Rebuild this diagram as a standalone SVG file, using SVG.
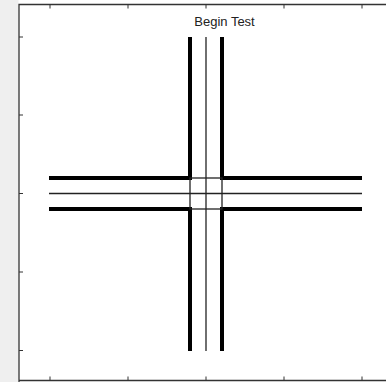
<svg xmlns="http://www.w3.org/2000/svg" width="386" height="382" viewBox="0 0 386 382">
<style>
.axis{stroke:#333;stroke-width:1.3;fill:none}
.tick{stroke:#333;stroke-width:1}
.thick{stroke:#000;stroke-width:4;fill:none;stroke-linecap:butt}
.thin{stroke:#222;stroke-width:1.3;fill:none}
.title{font-family:"Liberation Sans",Arial,sans-serif;font-size:13px;fill:#222}
</style>
<rect x="0" y="0" width="386" height="382" fill="#ffffff"/>
<rect x="0" y="0" width="18.5" height="382" fill="#efefef"/>
<g id="axes">
<path class="axis" d="M19,382 V4.5 H386 M19,380.5 H386"/>
<g class="tick">
<path d="M50,4.5 v4 M128,4.5 v4 M206,4.5 v4 M284,4.5 v4 M362,4.5 v4"/>
<path d="M50,380.5 v-4 M128,380.5 v-4 M206,380.5 v-4 M284,380.5 v-4 M362,380.5 v-4"/>
<path d="M19,37 h4 M19,115 h4 M19,193.5 h4 M19,272 h4 M19,350.5 h4"/>
</g>
</g>
<g id="title"><text class="title" x="224.5" y="25.5" text-anchor="middle">Begin Test</text></g>
<g id="connectors">
<path class="thick" d="M190,37 V178 H49"/>
<path class="thick" d="M222,37 V178 H362"/>
<path class="thick" d="M190,351 V209 H49"/>
<path class="thick" d="M222,351 V209 H362"/>
<path class="thin" d="M206,37 V351"/>
<path class="thin" d="M49,193.5 H362"/>
<rect class="thin" x="190" y="178" width="32" height="31"/>
</g>
</svg>
